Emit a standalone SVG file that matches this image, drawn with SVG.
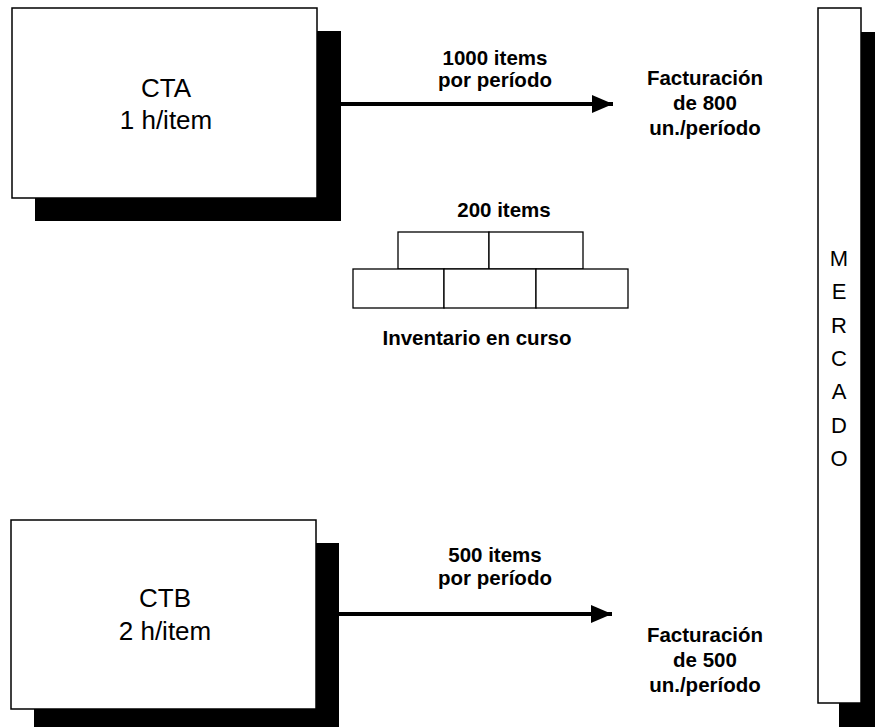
<svg xmlns="http://www.w3.org/2000/svg" width="875" height="727" viewBox="0 0 875 727">
<style>
.box{fill:#fff;stroke:#000;stroke-width:1.5}
.shadow{fill:#000}
.big{font-family:"Liberation Sans",Arial,sans-serif;font-size:26px;text-anchor:middle;fill:#000}
.lbl{font-family:"Liberation Sans",Arial,sans-serif;font-size:20.5px;font-weight:bold;text-anchor:middle;fill:#000}
.mk{font-family:"Liberation Sans",Arial,sans-serif;font-size:22px;text-anchor:middle;fill:#000}
.brick{fill:#fff;stroke:#000;stroke-width:1.3}
.conn{stroke:#000;stroke-width:4;fill:none}
</style>
<defs>
<marker id="arr" markerWidth="21" markerHeight="18" refX="21" refY="9" orient="auto" markerUnits="userSpaceOnUse">
<path d="M0,0 L21,9 L0,18 Z" fill="#000"/>
</marker>
</defs>
<rect width="875" height="727" fill="#fff"/>
<g id="cta">
<rect class="shadow" x="35" y="31" width="306" height="190"/>
<rect class="box" x="12" y="8" width="305" height="190"/>
<text class="big" x="166" y="97">CTA</text>
<text class="big" x="166" y="129">1 h/item</text>
</g>
<g id="ctb">
<rect class="shadow" x="34" y="543" width="305" height="184"/>
<rect class="box" x="11" y="520" width="305" height="189"/>
<text class="big" x="165" y="607">CTB</text>
<text class="big" x="165" y="640">2 h/item</text>
</g>
<g id="mercado">
<rect class="shadow" x="839" y="32" width="36" height="695"/>
<rect class="box" x="818" y="8" width="43" height="695"/>
<text class="mk" x="839" y="266">M</text>
<text class="mk" x="839" y="299">E</text>
<text class="mk" x="839" y="333">R</text>
<text class="mk" x="839" y="366">C</text>
<text class="mk" x="839" y="399">A</text>
<text class="mk" x="839" y="433">D</text>
<text class="mk" x="839" y="466">O</text>
</g>
<g id="inventario">
<rect class="brick" x="398" y="232" width="91" height="37"/>
<rect class="brick" x="489" y="232" width="94" height="37"/>
<rect class="brick" x="353" y="269" width="91" height="39"/>
<rect class="brick" x="444" y="269" width="92" height="39"/>
<rect class="brick" x="536" y="269" width="92" height="39"/>
<text class="lbl" x="504" y="217">200 items</text>
<text class="lbl" x="477" y="345">Inventario en curso</text>
</g>
<g id="fact-a">
<text class="lbl" x="705" y="85">Facturación</text>
<text class="lbl" x="705" y="110">de 800</text>
<text class="lbl" x="705" y="135">un./período</text>
</g>
<g id="fact-b">
<text class="lbl" x="705" y="642">Facturación</text>
<text class="lbl" x="705" y="667">de 500</text>
<text class="lbl" x="705" y="692">un./período</text>
</g>
<g id="connectors">
<line class="conn" x1="341" y1="104" x2="613" y2="104" marker-end="url(#arr)"/>
<line class="conn" x1="339" y1="614" x2="612" y2="614" marker-end="url(#arr)"/>
<text class="lbl" x="495" y="65">1000 items</text>
<text class="lbl" x="495" y="87">por período</text>
<text class="lbl" x="495" y="562">500 items</text>
<text class="lbl" x="495" y="585">por período</text>
</g>
</svg>
